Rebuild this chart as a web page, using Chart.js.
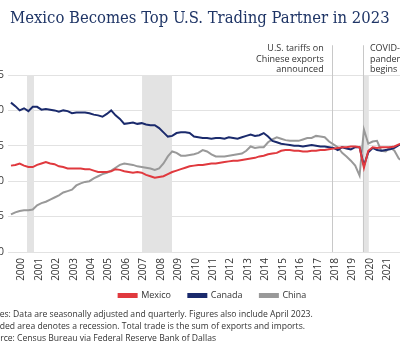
<!DOCTYPE html>
<html>
<head>
<meta charset="utf-8">
<script src="https://cdn.jsdelivr.net/npm/chart.js@4.4.0/dist/chart.umd.min.js"></script>
<style>
  html, body { margin: 0; padding: 0; width: 400px; height: 350px; overflow: hidden; background: #fff; }
  #marco { position: absolute; left: -30px; top: 0; width: 500px; height: 350px; }
  #titulo { position: absolute; left: 10px; top: 8px; font-family: "DejaVu Serif Condensed", "Liberation Serif"; font-size: 16.5px; color: #1f3566; white-space: nowrap; }
  #notas { position: absolute; left: -15px; top: 308px; font-family: "Open Sans"; font-size: 8.6px; line-height: 12px; color: #333; white-space: nowrap; }
</style>
</head>
<body>
<div id="marco"><canvas id="grafico" width="500" height="350"></canvas></div>
<div id="titulo">Mexico Becomes Top U.S. Trading Partner in 2023</div>
<div id="notas">Notes: Data are seasonally adjusted and quarterly. Figures also include April 2023.<br>Shaded area denotes a recession. Total trade is the sum of exports and imports.<br>Source: Census Bureau via Federal Reserve Bank of Dallas</div>
<script>
// share of total U.S. trade, percent, quarterly from 2000 Q1
var primerAnio = 2000;
var anios = [2000, 2001, 2002, 2003, 2004, 2005, 2006, 2007, 2008, 2009, 2010, 2011, 2012,
  2013, 2014, 2015, 2016, 2017, 2018, 2019, 2020, 2021, 2022, 2023, 2024];

var mexico = [12.2, 12.3, 12.5, 12.2, 12.0, 12.0, 12.3, 12.5, 12.7, 12.5, 12.4, 12.1,
  12.0, 11.8, 11.8, 11.8, 11.8, 11.7, 11.7, 11.5, 11.3, 11.3, 11.3, 11.4,
  11.7, 11.6, 11.4, 11.3, 11.2, 11.3, 11.2, 10.9, 10.7, 10.5, 10.6, 10.7,
  11.0, 11.3, 11.5, 11.7, 11.9, 12.1, 12.2, 12.3, 12.3, 12.4, 12.5, 12.5,
  12.6, 12.7, 12.8, 12.9, 12.9, 13.0, 13.1, 13.2, 13.3, 13.5, 13.6, 13.8,
  13.9, 14.0, 14.3, 14.4, 14.4, 14.3, 14.3, 14.2, 14.2, 14.3, 14.3, 14.4,
  14.4, 14.5, 14.6, 14.7, 14.8, 14.8, 14.9, 14.9, 14.8, 11.9, 14.3, 14.8,
  14.7, 14.8, 14.8, 14.8, 14.9, 15.2, 15.4, 15.5, 15.6, 15.7];

var canada = [21.1, 20.6, 20.0, 20.3, 19.9, 20.5, 20.5, 20.1, 20.2, 20.1, 20.0, 19.8,
  20.0, 19.9, 19.6, 19.7, 19.7, 19.7, 19.6, 19.4, 19.3, 19.1, 19.5, 20.0,
  19.3, 18.8, 18.1, 18.2, 18.3, 18.1, 18.2, 18.0, 17.9, 17.9, 17.5, 16.9,
  16.3, 16.4, 16.8, 16.9, 16.9, 16.8, 16.3, 16.2, 16.1, 16.1, 16.0, 16.1,
  16.1, 16.0, 16.2, 16.1, 16.0, 16.2, 16.4, 16.6, 16.4, 16.5, 16.8, 16.3,
  15.7, 15.5, 15.3, 15.2, 15.1, 15.0, 15.0, 14.9, 15.0, 15.1, 15.0, 14.9,
  14.9, 14.8, 14.7, 14.4, 14.8, 14.6, 14.5, 14.8, 14.8, 12.2, 14.1, 14.7,
  14.4, 14.3, 14.4, 14.5, 14.7, 15.1, 15.3, 15.2, 15.0, 14.9];

var china = [5.3, 5.6, 5.8, 5.9, 5.9, 6.0, 6.6, 6.9, 7.1, 7.4, 7.7, 8.0,
  8.4, 8.6, 8.8, 9.4, 9.7, 9.9, 10.0, 10.4, 10.7, 11.0, 11.2, 11.5,
  11.9, 12.3, 12.5, 12.4, 12.3, 12.1, 12.0, 11.9, 11.8, 11.6, 11.8, 12.5,
  13.5, 14.2, 14.0, 13.6, 13.6, 13.7, 13.8, 14.0, 14.4, 14.2, 13.8, 13.5,
  13.5, 13.5, 13.6, 13.7, 13.8, 13.9, 14.3, 14.9, 14.7, 14.8, 14.8, 15.5,
  15.9, 16.2, 16.0, 15.8, 15.7, 15.7, 15.7, 15.9, 16.1, 16.1, 16.4, 16.3,
  16.2, 15.6, 15.2, 14.8, 14.0, 13.5, 12.9, 12.2, 10.8, 17.3, 15.3, 15.6,
  15.7, 14.3, 14.2, 14.8, 14.3, 13.2, 12.8, 12.4, 12.2, 12.0];

// shaded recessions, as drawn (decimal years)
var recesiones = [[2000.92, 2001.32], [2007.52, 2009.24], [2020.19, 2020.53]];
var eventos = [
  { fecha: 2018.40, texto: ['U.S. tariffs on', 'Chinese exports', 'announced'], lado: 'izq' },
  { fecha: 2020.19, texto: ['COVID-19', 'pandemic', 'begins'], lado: 'der' }
];

function aPuntos(serie) {
  return serie.map(function (v, i) {
    return { x: primerAnio + i / 4, y: v };
  });
}

const marcas = {
  id: 'marcas',
  beforeDatasetsDraw(chart) {
    const ctx = chart.ctx;
    const x = chart.scales.x;
    const y = chart.scales.y;
    ctx.save();
    ctx.fillStyle = '#e3e3e3';
    recesiones.forEach(function (r) {
      const x0 = x.getPixelForValue(r[0]);
      const x1 = x.getPixelForValue(r[1]);
      ctx.fillRect(x0, y.getPixelForValue(25), x1 - x0, y.getPixelForValue(0) - y.getPixelForValue(25));
    });
    ctx.strokeStyle = '#c8c8c8';
    ctx.lineWidth = 1;
    eventos.forEach(function (ev) {
      const px = Math.round(x.getPixelForValue(ev.fecha)) + 0.5;
      ctx.beginPath();
      ctx.moveTo(px, y.getPixelForValue(29.2));
      ctx.lineTo(px, y.getPixelForValue(0));
      ctx.stroke();
    });
    ctx.restore();
  },
  afterDraw(chart) {
    const ctx = chart.ctx;
    const x = chart.scales.x;
    const y = chart.scales.y;
    ctx.save();
    ctx.font = '9px "Open Sans"';
    ctx.fillStyle = '#333';
    ctx.textBaseline = 'middle';
    eventos.forEach(function (ev) {
      const px = x.getPixelForValue(ev.fecha);
      const y0 = y.getPixelForValue(28.7);
      ev.texto.forEach(function (t, k) {
        if (ev.lado === 'izq') {
          ctx.textAlign = 'right';
          ctx.fillText(t, px - 8, y0 + k * 10.5);
        } else {
          ctx.textAlign = 'left';
          ctx.fillText(t, px + 7, y0 + k * 10.5);
        }
      });
    });
    ctx.restore();
  }
};

const lienzo = document.getElementById('grafico');

new Chart(lienzo, {
  type: 'line',
  data: {
    datasets: [
      { label: 'Mexico', data: aPuntos(mexico), borderColor: '#e0393e', backgroundColor: '#e0393e' },
      { label: 'Canada', data: aPuntos(canada), borderColor: '#1a2a6c', backgroundColor: '#1a2a6c' },
      { label: 'China', data: aPuntos(china), borderColor: '#999999', backgroundColor: '#999999' }
    ]
  },
  options: {
    responsive: false,
    animation: false,
    devicePixelRatio: 1,
    parsing: false,
    elements: {
      line: { borderWidth: 2, tension: 0 },
      point: { radius: 0 }
    },
    layout: { padding: { top: 75, right: 15, bottom: 40, left: 0 } },
    scales: {
      x: {
        type: 'linear',
        min: 1999.83,
        max: 2025.475,
        grid: { display: false, drawTicks: false },
        border: { display: false },
        afterBuildTicks: function (scale) {
          scale.ticks = anios.map(function (a) { return { value: a + 0.6 }; });
        },
        afterFit: function (scale) { scale.height = 31; },
        ticks: {
          autoSkip: false,
          minRotation: 90,
          maxRotation: 90,
          padding: 6,
          color: '#333',
          font: { family: 'Open Sans', size: 10 },
          callback: function (v) { return String(Math.floor(v)); }
        }
      },
      y: {
        min: 0,
        max: 25,
        grid: { color: '#e2e2e2', drawTicks: false },
        border: { display: false },
        afterFit: function (scale) { scale.width = 38; },
        ticks: {
          stepSize: 5,
          padding: 4,
          color: '#333',
          font: { family: 'Open Sans', size: 10 }
        }
      }
    },
    plugins: {
      legend: {
        position: 'bottom',
        labels: {
          boxWidth: 18,
          boxHeight: 3,
          padding: 8,
          color: '#333',
          font: { family: 'Open Sans', size: 9 },
          generateLabels: function (chart) {
            const items = Chart.defaults.plugins.legend.labels.generateLabels(chart);
            items.forEach(function (it, i) {
              if (i < items.length - 1) it.text = it.text + '    ';
            });
            return items;
          }
        }
      },
      tooltip: { enabled: false }
    }
  },
  plugins: [marcas]
});
</script>
</body>
</html>
